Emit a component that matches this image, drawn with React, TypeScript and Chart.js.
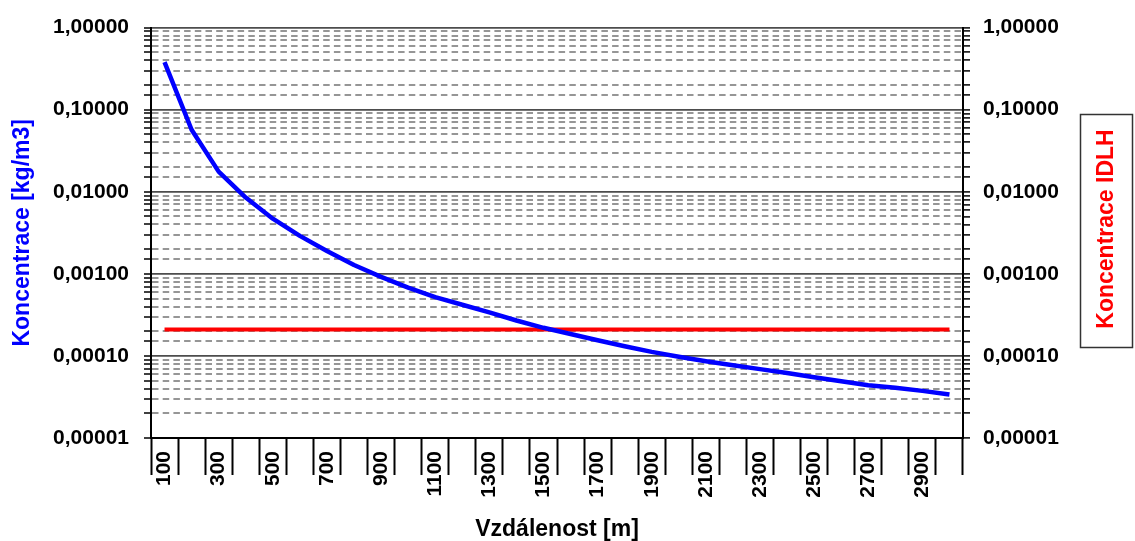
import React, { useEffect, useRef } from 'react';
import { Chart, registerables } from 'chart.js';

Chart.register(...registerables);

// Distance categories [m]
const distances: number[] = [
  100, 200, 300, 400, 500, 600, 700, 800, 900, 1000,
  1100, 1200, 1300, 1400, 1500, 1600, 1700, 1800, 1900, 2000,
  2100, 2200, 2300, 2400, 2500, 2600, 2700, 2800, 2900, 3000,
];

// Concentration [kg/m3]
const concentration: number[] = [
  0.38, 0.057, 0.0176, 0.0085, 0.0047, 0.0029, 0.0019, 0.00128, 0.00092, 0.00068,
  0.00052, 0.00042, 0.00034, 0.00027, 0.00022, 0.000185, 0.000155, 0.000131, 0.000112, 0.0000975,
  0.000086, 0.000077, 0.000069, 0.000062, 0.000055, 0.000049, 0.000044, 0.000041, 0.0000375, 0.0000338,
];

// IDLH concentration (constant)
const idlh: number[] = [
  0.00021, 0.00021, 0.00021, 0.00021, 0.00021, 0.00021, 0.00021, 0.00021, 0.00021, 0.00021,
  0.00021, 0.00021, 0.00021, 0.00021, 0.00021, 0.00021, 0.00021, 0.00021, 0.00021, 0.00021,
  0.00021, 0.00021, 0.00021, 0.00021, 0.00021, 0.00021, 0.00021, 0.00021, 0.00021, 0.00021,
];

const yMin = 0.00001;
const yMax = 1;

const leftTitle = 'Koncentrace [kg/m3]';
const rightTitle = 'Koncentrace IDLH';
const xTitle = 'Vzdálenost [m]';

const FONT = "'Liberation Sans', Arial, sans-serif";

const isMajor = (v: number) => {
  const l = Math.log10(v);
  return Math.abs(l - Math.round(l)) < 1e-9;
};
const fmt = (v: number) => v.toFixed(5).replace('.', ',');

const idlhTitleBox = {
  id: 'idlhTitleBox',
  afterDraw(chart: any) {
    const ctx = chart.ctx;
    const area = chart.chartArea;
    const bx = area.right + 117.5;
    const by = 114.5;
    const bw = 52;
    const bh = 233;
    ctx.save();
    ctx.strokeStyle = '#333333';
    ctx.lineWidth = 1.5;
    ctx.strokeRect(bx, by, bw, bh);
    ctx.translate(bx + bw / 2, by + bh / 2 - 2);
    ctx.rotate(-Math.PI / 2);
    ctx.fillStyle = '#ff0000';
    ctx.font = `bold 23px ${FONT}`;
    ctx.textAlign = 'center';
    ctx.textBaseline = 'middle';
    ctx.fillText(rightTitle, 0, 0);
    ctx.restore();
  },
};

export default function App() {
  const canvasRef = useRef<HTMLCanvasElement | null>(null);

  useEffect(() => {
    if (!canvasRef.current) return;
    const tickFont = { family: FONT, size: 21, weight: 'bold' as const };
    const chart = new Chart(canvasRef.current, {
      type: 'line',
      data: {
        labels: distances.map(String),
        datasets: [
          {
            label: 'Koncentrace',
            data: concentration,
            borderColor: '#0000ff',
            backgroundColor: '#0000ff',
            borderWidth: 4.5,
            pointRadius: 0,
            tension: 0,
            borderJoinStyle: 'round',
            borderCapStyle: 'butt',
            yAxisID: 'y',
          },
          {
            label: 'IDLH',
            data: idlh,
            borderColor: '#ff0000',
            backgroundColor: '#ff0000',
            borderWidth: 4,
            pointRadius: 0,
            tension: 0,
            yAxisID: 'y2',
          },
        ],
      },
      options: {
        responsive: false,
        animation: false,
        layout: { padding: { top: 25, left: 0, right: 0, bottom: 0 } },
        plugins: {
          legend: { display: false },
          tooltip: { enabled: false },
        },
        scales: {
          x: {
            type: 'category',
            offset: true,
            afterFit: (s: any) => {
              s.height = 103;
            },
            grid: {
              offset: true,
              drawOnChartArea: false,
              drawTicks: true,
              tickLength: 37,
              tickColor: '#000000',
              tickWidth: 2,
              color: '#000000',
            },
            border: { color: '#000000', width: 2 },
            ticks: {
              autoSkip: false,
              minRotation: 90,
              maxRotation: 90,
              padding: -24,
              color: '#000000',
              font: tickFont,
              callback: (_v: any, i: number) => (i % 2 === 0 ? String(distances[i]) : ''),
            },
            title: {
              display: true,
              text: xTitle,
              color: '#000000',
              font: { family: FONT, size: 23, weight: 'bold', lineHeight: 1 },
              padding: { top: 0, bottom: 0 },
            },
          },
          y: {
            type: 'logarithmic',
            position: 'left',
            min: yMin,
            max: yMax,
            afterFit: (s: any) => {
              s.width = 151;
            },
            ticks: {
              autoSkip: false,
              padding: 15,
              color: '#000000',
              font: tickFont,
              callback: (v: any) => (isMajor(Number(v)) ? fmt(Number(v)) : ''),
            },
            grid: {
              drawOnChartArea: true,
              color: (c: any) => (c.tick && isMajor(c.tick.value) ? 'rgba(0,0,0,0)' : '#969696'),
              lineWidth: 2,
              tickColor: '#000000',
              tickLength: 7,
              tickWidth: 1.5,
            },
            border: { display: true, color: '#000000', width: 2, dash: [6.5, 4.2] },
            title: {
              display: true,
              text: leftTitle,
              color: '#0000ff',
              font: { family: FONT, size: 23, weight: 'bold', lineHeight: 1 },
              padding: { top: 11, bottom: 0 },
            },
          },
          y2: {
            type: 'logarithmic',
            position: 'right',
            min: yMin,
            max: yMax,
            afterFit: (s: any) => {
              s.width = 172;
            },
            ticks: {
              autoSkip: false,
              padding: 13,
              color: '#000000',
              font: tickFont,
              callback: (v: any) => (isMajor(Number(v)) ? fmt(Number(v)) : ''),
            },
            grid: {
              drawOnChartArea: true,
              color: (c: any) => (c.tick && isMajor(c.tick.value) ? '#4d4d4d' : 'rgba(0,0,0,0)'),
              lineWidth: 1.8,
              tickColor: '#000000',
              tickLength: 7,
              tickWidth: 1.5,
            },
            border: { display: true, color: '#000000', width: 2 },
            title: { display: false },
          },
        },
      },
      plugins: [idlhTitleBox],
    } as any);
    return () => chart.destroy();
  }, []);

  return (
    <div style={{ position: 'fixed', left: 0, top: 0, width: 1135, height: 541, background: '#ffffff' }}>
      <canvas ref={canvasRef} width={1135} height={541} style={{ display: 'block' }} />
    </div>
  );
}
